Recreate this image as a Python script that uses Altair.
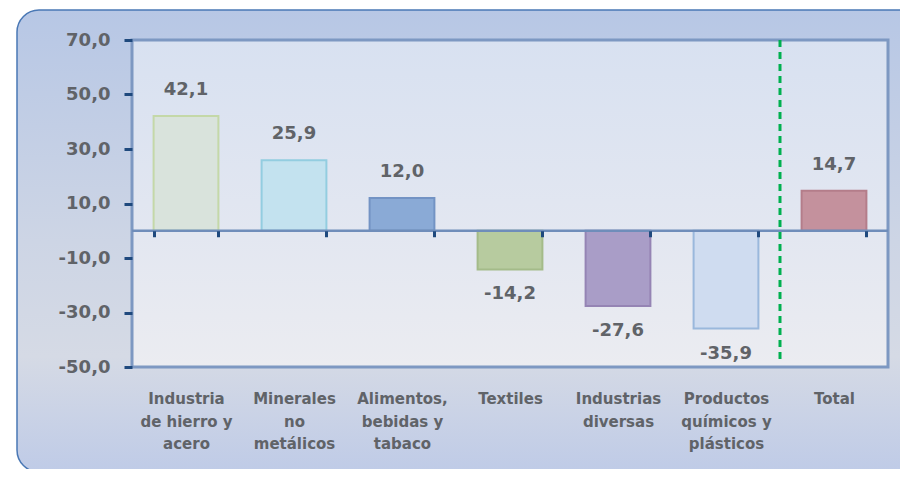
import altair as alt
import pandas as pd

categories = [
    "Industria\nde hierro y\nacero",
    "Minerales\nno\nmetálicos",
    "Alimentos,\nbebidas y\ntabaco",
    "Textiles",
    "Industrias\ndiversas",
    "Productos\nquímicos y\nplásticos",
    "Total",
]
values = [42.1, 25.9, 12.0, -14.2, -27.6, -35.9, 14.7]
fills = ["#d9e3dc", "#c3e2ef", "#8aaad6", "#b7cb9f", "#a99dc7", "#cfdcf0", "#c4919d"]
strokes = ["#c4d8a8", "#93cde0", "#7393c4", "#a4bb89", "#9584b4", "#9ab8dc", "#b47d8a"]
y_ticks = [-50, -30, -10, 10, 30, 50, 70]

W, H = 756, 327
FONT = "DejaVu Sans"
TXT = "#606368"
FMT = "replace(replace(format({v}, '.1f'), '.', ','), '\u2212', '-')"

df = pd.DataFrame({"cat": categories, "value": values})
one = pd.DataFrame({"a": [0]})

xscale = alt.Scale(domain=categories, paddingInner=0.4, paddingOuter=0.2)
yscale = alt.Scale(domain=[-50, 70], nice=False)

x_enc = alt.X(
    "cat:N",
    sort=categories,
    scale=xscale,
    title=None,
    axis=alt.Axis(
        orient="bottom",
        offset=-136.25,
        domain=False,
        tickBand="extent",
        tickColor="#1f497d",
        tickWidth=3,
        tickSize=6,
        labelAngle=0,
        labelFont=FONT,
        labelFontWeight="bold",
        labelFontSize=15,
        labelColor=TXT,
        labelLineHeight=22.5,
        labelPadding=155,
        labelExpr="split(datum.label, '\\n')",
        zindex=1,
    ),
)
y_enc = alt.Y(
    "value:Q",
    scale=yscale,
    title=None,
    axis=alt.Axis(
        values=y_ticks,
        domain=False,
        grid=False,
        tickColor="#1f497d",
        tickWidth=3,
        tickSize=8,
        labelFont=FONT,
        labelFontWeight="bold",
        labelFontSize=18,
        labelColor=TXT,
        labelPadding=14,
        labelExpr=FMT.format(v="datum.value"),
        zindex=1,
    ),
)

frame = alt.Chart(one).mark_rect(
    cornerRadius=22,
    stroke="#4a78b5",
    strokeWidth=1.5,
    fill=alt.Gradient(
        gradient="linear",
        x1=0, x2=0, y1=0, y2=1,
        stops=[
            alt.GradientStop(color="#b7c7e5", offset=0),
            alt.GradientStop(color="#cdd5e5", offset=0.5),
            alt.GradientStop(color="#d5dae5", offset=0.75),
            alt.GradientStop(color="#bfcbe7", offset=1),
        ],
    ),
).encode(
    x=alt.value(-115), x2=alt.value(W + 60),
    y=alt.value(-30), y2=alt.value(H + 105),
)

plotbg = alt.Chart(one).mark_rect(
    stroke="#7d98c2",
    strokeWidth=3,
    fill=alt.Gradient(
        gradient="linear",
        x1=0, x2=0, y1=0, y2=1,
        stops=[
            alt.GradientStop(color="#d8e1f1", offset=0),
            alt.GradientStop(color="#e3e7f1", offset=0.6),
            alt.GradientStop(color="#ebecf1", offset=1),
        ],
    ),
).encode(
    x=alt.value(0), x2=alt.value(W),
    y=alt.value(0), y2=alt.value(H),
)

base = alt.Chart(df)

bars = base.mark_bar(strokeWidth=2).encode(
    x=x_enc,
    y=y_enc,
    y2=alt.datum(0),
    fill=alt.Fill("cat:N", scale=alt.Scale(domain=categories, range=fills), legend=None),
    stroke=alt.Stroke("cat:N", scale=alt.Scale(domain=categories, range=strokes), legend=None),
)

zero = alt.Chart(one).mark_rule(color="#6f8dba", strokeWidth=2.5).encode(y=alt.datum(0))

divider = base.transform_filter(alt.datum.cat == "Total").mark_rule(
    color="#00b050", strokeWidth=3, strokeDash=[7, 5], xOffset=-21.6
).encode(
    x=alt.X("cat:N", sort=categories, scale=xscale, bandPosition=0),
    y=alt.datum(70),
    y2=alt.datum(-47.5),
)

lab = base.transform_calculate(label=FMT.format(v="datum.value"))
text_pos = lab.transform_filter(alt.datum.value >= 0).mark_text(
    font=FONT, fontWeight="bold", fontSize=18, color=TXT, dy=-26, baseline="middle"
).encode(x=alt.X("cat:N", sort=categories, scale=xscale), y=alt.Y("value:Q", scale=yscale), text="label:N")
text_neg = lab.transform_filter(alt.datum.value < 0).mark_text(
    font=FONT, fontWeight="bold", fontSize=18, color=TXT, dy=25, baseline="middle"
).encode(x=alt.X("cat:N", sort=categories, scale=xscale), y=alt.Y("value:Q", scale=yscale), text="label:N")

chart = alt.layer(frame, plotbg, bars, zero, divider, text_pos, text_neg).properties(
    width=W,
    height=H,
    autosize=alt.AutoSizeParams(type="none"),
    padding={"left": 124, "top": 32, "right": 12, "bottom": 102},
    background="white",
).configure_view(stroke=None)

chart.save("out.html", embed_options={"renderer": "svg", "actions": False})
